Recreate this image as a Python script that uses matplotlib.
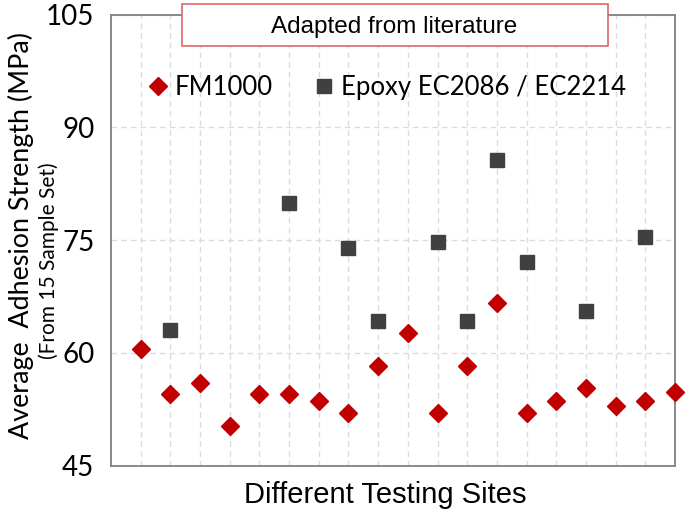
import matplotlib.pyplot as plt
from matplotlib.patches import Rectangle

# data
fm_sites = list(range(1, 20))
fm_values = [60.5, 54.5, 56.0, 50.3, 54.5, 54.5, 53.6, 52.0, 58.3, 62.7,
             52.0, 58.3, 66.6, 52.0, 53.6, 55.4, 53.0, 53.6, 54.8]
ep_sites = [2, 6, 8, 9, 11, 12, 13, 14, 16, 18]
ep_values = [63.0, 80.0, 73.9, 64.2, 74.7, 64.2, 85.7, 72.1, 65.6, 75.4]
yticks = [45, 60, 75, 90, 105]

cal = "Lato"  # stand-in for Calibri

fig = plt.figure(figsize=(6.85, 5.14), dpi=100)
ax = fig.add_axes([111 / 685, 48.3 / 514, 564 / 685, 451 / 514])

ax.plot(fm_sites, fm_values, "D", color="#C00000", markersize=9.5, label="FM1000",
        zorder=3, clip_on=False)
ax.plot(ep_sites, ep_values, "s", color="#404040", markersize=9.5,
        label="Epoxy EC2086 / EC2214", zorder=3)

ax.set_xlim(0, 19)
ax.set_ylim(45, 105)
ax.set_yticks(yticks)
ax.set_xticks(range(1, 19))
ax.tick_params(axis="x", length=0, labelbottom=False)
ax.tick_params(axis="y", length=0, pad=12)
for lab in ax.get_yticklabels():
    lab.set_fontsize(20)
    lab.set_family(cal)
ax.grid(True, linestyle=(0, (4, 3)), color="#dcdcdc", linewidth=1)
for s in ax.spines.values():
    s.set_color("#808080")
    s.set_linewidth(1.3)

ax.legend(loc="center left", bbox_to_anchor=(148 / 685, 1 - 87 / 514),
          bbox_transform=fig.transFigure, ncol=2, frameon=False,
          prop={"family": cal, "size": 18.5}, handletextpad=0.25,
          columnspacing=1.6, handlelength=0.8, borderpad=0, borderaxespad=0)

# title box
fig.patches.append(Rectangle((182 / 685, 1 - 46 / 514), 426 / 685, 42 / 514,
                             transform=fig.transFigure, facecolor="white",
                             edgecolor="#E06666", linewidth=1.2, zorder=5))
fig.text(394.5 / 685, 1 - 33.5 / 514, "Adapted from literature", ha="center",
         va="baseline", fontsize=17.5, family="Liberation Sans", zorder=6)

fig.text(21 / 685, 1 - 235.5 / 514, "Average  Adhesion Strength (MPa)",
         rotation=90, ha="center", va="center", fontsize=19.4, family=cal)
fig.text(49 / 685, 1 - 261 / 514, "(From 15 Sample Set)", rotation=90,
         ha="center", va="center", fontsize=15, family=cal)
fig.text(385.5 / 685, 1 - 495 / 514, "Different Testing Sites", ha="center",
         va="center", fontsize=21, family="Liberation Sans")

fig.savefig("out.png", dpi=100)
